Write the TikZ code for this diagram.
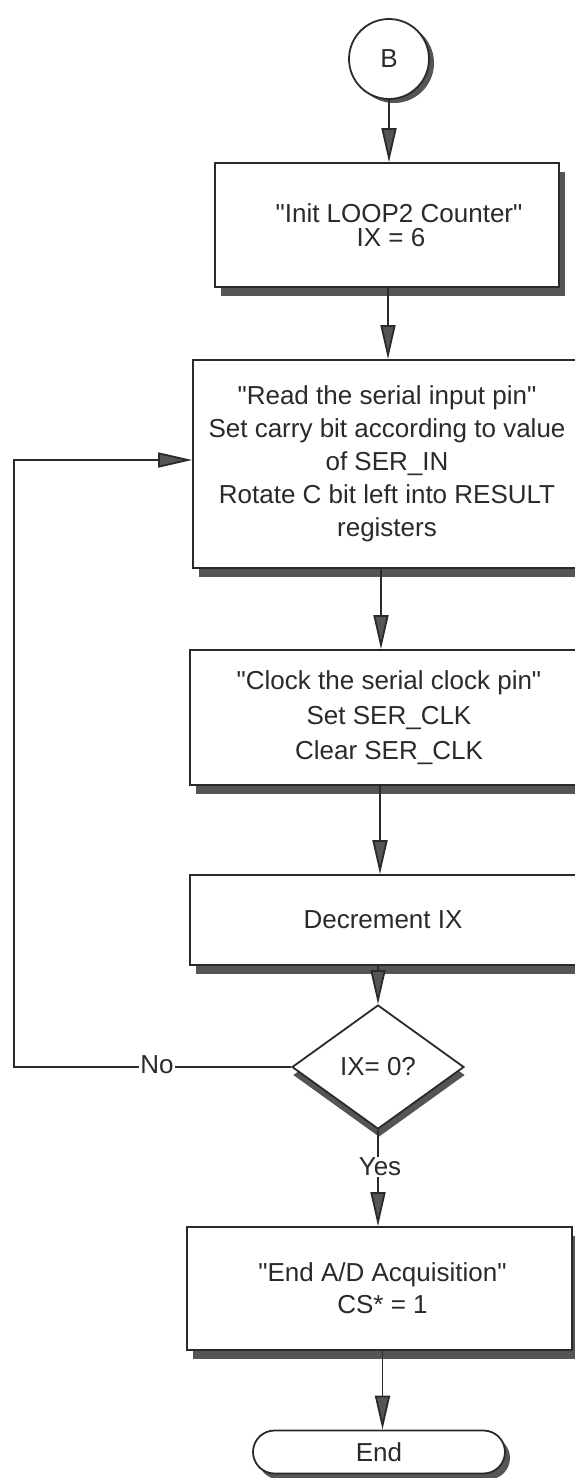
\documentclass[tikz,border=0pt]{standalone}
\usepackage{fontspec}
\setmainfont{Liberation Sans}
\newfontfamily\plainsans{Liberation Sans}
\usetikzlibrary{arrows.meta,shapes.geometric,shapes.misc,shadows,calc}
\definecolor{ink}{HTML}{2A2A2A}
\definecolor{shade}{HTML}{555555}
\tikzset{
  procbox/.style={draw=ink, line width=1.8pt, fill=white, rectangle, align=center, text=ink,
    font=\plainsans\fontsize{26}{33}\selectfont,
    drop shadow={shadow xshift=6pt, shadow yshift=-9pt, fill=shade, opacity=1}},
  decbox/.style={draw=ink, line width=1.8pt, fill=white, diamond, aspect=1.39, inner sep=0pt,
    text=ink, font=\plainsans\fontsize{26}{30}\selectfont,
    drop shadow={shadow xshift=1pt, shadow yshift=-8pt, fill=shade, opacity=1}},
  conn/.style={draw=ink, line width=1.8pt, fill=white, circle, inner sep=0pt, text=ink,
    font=\plainsans\fontsize{26}{30}\selectfont,
    drop shadow={shadow xshift=5pt, shadow yshift=-4pt, fill=shade, opacity=1}},
  termbox/.style={draw=ink, line width=1.8pt, fill=white, rounded rectangle, inner sep=0pt, text=ink,
    font=\plainsans\fontsize{26}{30}\selectfont,
    drop shadow={shadow xshift=5pt, shadow yshift=-6pt, fill=shade, opacity=1}},
  flow/.style={draw=ink, line width=1.8pt, -{Triangle[length=34pt,width=15pt,fill=shade]}},
  lbl/.style={fill=white, inner sep=1pt, text=ink, font=\plainsans\fontsize{26}{30}\selectfont}
}
\begin{document}
\begin{tikzpicture}[x=1pt,y=-1pt]
\useasboundingbox (0,0) rectangle (575,1478);
\clip (0,0) rectangle (575,1478);

\node[conn, minimum size=80pt] (B) at (389,59) {B};
\node[procbox, minimum width=344pt, minimum height=124pt, font=\plainsans\fontsize{26}{24}\selectfont] (b1) at (387,225)
  {\hspace*{24pt}"Init LOOP2 Counter"\\\hspace*{8pt}IX = 6};
\node[procbox, minimum width=388pt, minimum height=208pt] (b2) at (387,464)
  {"Read the serial input pin"\\Set carry bit according to value\\of SER\_IN\\Rotate C bit left into RESULT\\registers};
\node[procbox, minimum width=398pt, minimum height=135pt, font=\plainsans\fontsize{26}{35}\selectfont] (b3) at (389,717.5)
  {"Clock the serial clock pin"\\Set SER\_CLK\\Clear SER\_CLK};
\node[procbox, minimum width=398pt, minimum height=90pt] (b4) at (389,920) {\hspace*{-12pt}Decrement IX};
\node[decbox, minimum width=172pt, minimum height=124pt] (d) at (378,1067) {IX= 0?};
\node[procbox, minimum width=385pt, minimum height=123pt, font=\plainsans\fontsize{26}{32}\selectfont] (b5) at (379.5,1288.5)
  {\hspace*{6pt}"End A/D Acquisition"\\\hspace*{6pt}CS* = 1};
\node[termbox, minimum width=252pt, minimum height=43pt] (t) at (379,1452) {End};

\coordinate (lc) at (14,1067);

\draw[flow] (B.south) -- (B.south |- b1.north);
\draw[flow] ([xshift=1pt]b1.south) -- ([xshift=1pt]b1.south |- b2.north);
\draw[flow] ([xshift=-6pt]b2.south) -- ([xshift=-6pt]b2.south |- b3.north);
\draw[flow] ([xshift=-9pt]b3.south) -- ([xshift=-9pt]b3.south |- b4.north);
\draw[flow] (d.north |- b4.south) -- (d.north);
\draw[flow] (d.south) -- (d.south |- b5.north);
\draw[flow] ([xshift=3pt]b5.south) -- ([xshift=3pt]b5.south |- t.north);
\draw[flow] (d.west) -- (lc) |- ([yshift=4pt]b2.west);

\node[lbl] (no) at (157,1065) {No};
\node[lbl] (yes) at (380,1167) {Yes};
\end{tikzpicture}
\end{document}
